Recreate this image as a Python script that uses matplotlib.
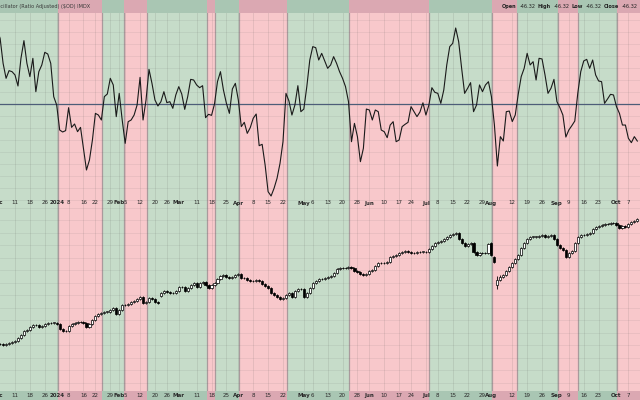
import numpy as np
import pandas as pd
import matplotlib
matplotlib.use("Agg")
import matplotlib.pyplot as plt
from matplotlib.patches import Rectangle

# ---------------- data ----------------
holidays = ['2023-12-25', '2024-01-01', '2024-01-15', '2024-02-19', '2024-03-29',
            '2024-05-27', '2024-06-19', '2024-07-04', '2024-09-02']
dates = pd.bdate_range('2023-12-01', '2024-10-10')
dates = dates[~dates.isin(pd.to_datetime(holidays))]

osc = [92.5, 82.1, 50.8, 32.1, 41.7, 40.4, 36.3, 22.5, 57.1, 79.2,
       50.8, 34.2, 57.1, 15.4, 40.4, 48.8, 64.6, 62.5, 50.8, 9.2,
       -1.3, -32.5, -35.0, -33.3, -4.6, -29.2, -25.0, -34.6, -29.2, -55.4,
       -82.5, -70.0, -45.0, -11.7, -13.8, -20.0, 9.2, 12.5, 32.1, 23.8,
       -15.8, 13.3, -20.0, -49.2, -22.1, -20.0, -13.8, -1.3, 33.3, -20.0,
       5.0, 43.3, 25.8, 5.0, -2.5, 2.9, 15.4, 1.7, 2.9, -5.4,
       11.3, 21.7, 12.5, -6.7, 9.2, 30.8, 30.0, 23.8, 20.4, 22.9,
       -17.1, -12.9, -14.2, 0.0, 28.0, 40.4, 17.5, 0.8, -11.7, 18.8,
       25.8, 5.0, -28.3, -22.9, -36.7, -29.6, -17.9, -12.5, -52.1, -50.4,
       -76.3, -109.6, -115.0, -105.4, -92.9, -74.2, -47.1, 13.3, 3.8, -13.8,
       -1.3, 22.9, -9.6, -6.3, 21.7, 55.0, 71.7, 70.4, 55.0, 63.3,
       53.8, 44.6, 48.8, 59.2, 50.8, 40.4, 32.1, 21.7, 2.9, -47.1,
       -24.2, -40.8, -72.1, -55.4, -6.3, -7.5, -20.0, -7.5, -9.6, -32.5,
       -34.6, -42.1, -26.3, -22.1, -47.1, -45.0, -28.3, -25.4, -22.9, -3.3,
       -9.6, -15.8, -10.0, 1.5, -13.8, -1.3, 20.4, 14.6, 13.3, 0.8,
       17.5, 48.8, 71.7, 75.8, 95.0, 77.9, 44.6, 13.3, 19.6, 26.7,
       -9.6, -1.3, 23.8, 15.4, 23.8, 27.9, 9.2, -26.0, -77.5, -40.8,
       -46.3, -9.6, -8.8, -22.0, -13.8, 12.1, 34.2, 44.6, 63.3, 48.8,
       52.9, 30.0, 57.1, 56.3, 36.3, 13.3, 19.6, 30.8, 2.9, -4.6,
       -13.8, -41.3, -32.5, -27.1, -21.3, 13.3, 40.4, 53.8, 55.8, 44.6,
       55.0, 36.3, 28.8, 27.9, 0.8, 6.3, 12.1, 11.3, -3.3, -11.7,
       -26.3, -26.3, -42.9, -48.3, -40.8, -46.32]

opens = [4555, 4560, 4560, 4550, 4560, 4567, 4580, 4593, 4617, 4650,
         4690, 4700, 4727, 4747, 4750, 4727, 4740, 4757, 4767, 4773,
         4773, 4760, 4707, 4687, 4687, 4740, 4760, 4773, 4777, 4780,
         4767, 4733, 4760, 4800, 4840, 4860, 4867, 4883, 4883, 4900,
         4917, 4857, 4900, 4947, 4950, 4957, 4980, 4993, 5013, 5033,
         4967, 4983, 5017, 5007, 4983, 5040, 5073, 5090, 5083, 5073,
         5067, 5093, 5127, 5133, 5093, 5117, 5150, 5167, 5127, 5167,
         5178, 5155, 5125, 5150, 5167, 5207, 5240, 5250, 5233, 5217,
         5233, 5253, 5260, 5217, 5220, 5200, 5190, 5193, 5200, 5190,
         5160, 5140, 5117, 5073, 5050, 5033, 5007, 5017, 5050, 5067,
         5033, 5093, 5107, 5107, 5033, 5067, 5117, 5167, 5193, 5207,
         5213, 5220, 5227, 5240, 5273, 5307, 5317, 5317, 5317, 5333,
         5317, 5293, 5283, 5260, 5247, 5260, 5287, 5300, 5340, 5367,
         5367, 5373, 5380, 5427, 5440, 5450, 5467, 5483, 5493, 5480,
         5467, 5473, 5480, 5483, 5483, 5477, 5507, 5540, 5567, 5577,
         5587, 5607, 5633, 5647, 5660, 5667, 5607, 5573, 5540, 5560,
         5567, 5483, 5450, 5467, 5467, 5467, 5575, 5430, 5150, 5200,
         5227, 5250, 5293, 5333, 5367, 5407, 5450, 5517, 5567, 5610,
         5633, 5633, 5633, 5640, 5647, 5633, 5640, 5650, 5607, 5550,
         5517, 5500, 5433, 5473, 5493, 5573, 5627, 5650, 5650, 5657,
         5667, 5707, 5727, 5740, 5747, 5757, 5760, 5767, 5773, 5750,
         5717, 5740, 5733, 5760, 5783, 5793]

highs = [4570, 4570, 4570, 4570, 4577, 4590, 4603, 4627, 4660, 4700,
         4710, 4737, 4757, 4760, 4760, 4750, 4767, 4777, 4783, 4783,
         4783, 4770, 4717, 4697, 4750, 4770, 4783, 4787, 4790, 4790,
         4777, 4770, 4810, 4850, 4870, 4877, 4893, 4893, 4910, 4927,
         4927, 4910, 4957, 4960, 4967, 4990, 5003, 5023, 5043, 5043,
         4993, 5027, 5027, 5017, 4993, 5083, 5100, 5100, 5093, 5083,
         5103, 5137, 5143, 5143, 5127, 5160, 5177, 5177, 5177, 5188,
         5188, 5165, 5160, 5177, 5217, 5250, 5260, 5260, 5243, 5243,
         5263, 5270, 5270, 5230, 5230, 5210, 5203, 5210, 5210, 5200,
         5170, 5150, 5127, 5083, 5060, 5043, 5027, 5060, 5077, 5077,
         5103, 5117, 5117, 5117, 5077, 5127, 5177, 5203, 5217, 5223,
         5230, 5237, 5250, 5283, 5317, 5327, 5327, 5327, 5343, 5343,
         5327, 5303, 5293, 5270, 5270, 5297, 5310, 5350, 5377, 5377,
         5383, 5390, 5437, 5450, 5460, 5477, 5493, 5503, 5503, 5490,
         5483, 5490, 5493, 5493, 5493, 5517, 5550, 5577, 5587, 5597,
         5617, 5643, 5657, 5670, 5677, 5677, 5617, 5583, 5570, 5577,
         5577, 5493, 5477, 5477, 5477, 5570, 5585, 5440, 5240, 5250,
         5260, 5303, 5343, 5377, 5417, 5460, 5527, 5577, 5620, 5643,
         5643, 5643, 5650, 5657, 5657, 5650, 5660, 5660, 5617, 5560,
         5527, 5510, 5483, 5503, 5583, 5637, 5660, 5660, 5667, 5677,
         5717, 5737, 5750, 5757, 5767, 5770, 5777, 5783, 5783, 5760,
         5750, 5750, 5770, 5793, 5803, 5817]

lows = [4545, 4550, 4540, 4540, 4550, 4557, 4570, 4583, 4607, 4640,
        4680, 4690, 4717, 4737, 4717, 4717, 4730, 4747, 4757, 4763,
        4750, 4697, 4677, 4677, 4677, 4730, 4750, 4763, 4767, 4757,
        4723, 4723, 4750, 4790, 4830, 4850, 4857, 4873, 4873, 4890,
        4847, 4847, 4890, 4937, 4940, 4947, 4970, 4983, 5003, 4957,
        4957, 4973, 4997, 4973, 4957, 5030, 5063, 5073, 5063, 5057,
        5057, 5083, 5117, 5083, 5083, 5107, 5140, 5117, 5117, 5157,
        5145, 5115, 5115, 5140, 5157, 5197, 5230, 5223, 5207, 5207,
        5223, 5243, 5207, 5207, 5190, 5180, 5180, 5183, 5180, 5150,
        5130, 5107, 5063, 5040, 5023, 4997, 4997, 5007, 5040, 5023,
        5023, 5083, 5097, 5023, 5023, 5057, 5107, 5157, 5183, 5197,
        5203, 5210, 5217, 5230, 5263, 5297, 5307, 5307, 5307, 5307,
        5283, 5273, 5250, 5237, 5237, 5250, 5277, 5290, 5330, 5357,
        5357, 5363, 5370, 5417, 5430, 5440, 5457, 5473, 5470, 5457,
        5457, 5463, 5470, 5473, 5467, 5467, 5497, 5530, 5557, 5567,
        5577, 5597, 5623, 5637, 5650, 5597, 5563, 5530, 5530, 5550,
        5473, 5440, 5440, 5457, 5457, 5457, 5440, 5370, 5110, 5190,
        5217, 5240, 5283, 5323, 5357, 5397, 5440, 5507, 5557, 5600,
        5623, 5623, 5623, 5630, 5623, 5623, 5630, 5597, 5540, 5507,
        5490, 5423, 5423, 5463, 5483, 5563, 5617, 5640, 5640, 5647,
        5657, 5697, 5717, 5730, 5737, 5747, 5750, 5757, 5740, 5707,
        5707, 5723, 5723, 5750, 5773, 5783]

closes = [4560, 4560, 4550, 4560, 4567, 4580, 4593, 4617, 4650, 4690,
          4700, 4727, 4747, 4750, 4727, 4740, 4757, 4767, 4773, 4773,
          4760, 4707, 4687, 4687, 4740, 4760, 4773, 4777, 4780, 4767,
          4733, 4760, 4800, 4840, 4860, 4867, 4883, 4883, 4900, 4917,
          4857, 4900, 4947, 4950, 4957, 4980, 4993, 5013, 5033, 4967,
          4983, 5017, 5007, 4983, 4967, 5073, 5090, 5083, 5073, 5067,
          5093, 5127, 5133, 5093, 5117, 5150, 5167, 5127, 5167, 5178,
          5155, 5125, 5150, 5167, 5207, 5240, 5250, 5233, 5217, 5233,
          5253, 5260, 5217, 5220, 5200, 5190, 5193, 5200, 5190, 5160,
          5140, 5117, 5073, 5050, 5033, 5007, 5017, 5050, 5067, 5033,
          5093, 5107, 5107, 5033, 5067, 5117, 5167, 5193, 5207, 5213,
          5220, 5227, 5240, 5273, 5307, 5317, 5317, 5317, 5333, 5317,
          5293, 5283, 5260, 5247, 5260, 5287, 5300, 5340, 5367, 5367,
          5373, 5380, 5427, 5440, 5450, 5467, 5483, 5493, 5480, 5467,
          5473, 5480, 5483, 5483, 5477, 5507, 5540, 5567, 5577, 5587,
          5607, 5633, 5647, 5660, 5667, 5607, 5573, 5540, 5560, 5567,
          5483, 5450, 5467, 5467, 5467, 5560, 5450, 5383, 5200, 5227,
          5250, 5293, 5333, 5367, 5407, 5450, 5517, 5567, 5610, 5633,
          5633, 5633, 5640, 5647, 5633, 5640, 5650, 5607, 5550, 5517,
          5500, 5433, 5473, 5493, 5573, 5627, 5650, 5650, 5657, 5667,
          5707, 5727, 5740, 5747, 5757, 5760, 5767, 5773, 5750, 5717,
          5740, 5733, 5760, 5783, 5793, 5807]

# regime bands (trading-day index boundaries) and whether each is bullish
band_edges = [-2, 20.34, 35.22, 42.44, 50.17, 70.33, 73.18, 81.34, 97.27,
              118.3, 145.2, 166.3, 174.5, 188.2, 195.2, 208.3, 218]
band_bull = [True, False, True, False, True, False, True, False, True,
             False, True, False, True, False, True, False]

tick_dates = ['2023-12-01', '2023-12-11', '2023-12-18', '2023-12-26', '2024-01-02',
              '2024-01-08', '2024-01-16', '2024-01-22', '2024-01-29', '2024-02-01',
              '2024-02-05', '2024-02-12', '2024-02-20', '2024-02-26', '2024-03-01',
              '2024-03-11', '2024-03-18', '2024-03-25', '2024-04-01', '2024-04-08',
              '2024-04-15', '2024-04-22', '2024-05-01', '2024-05-06', '2024-05-13',
              '2024-05-20', '2024-05-28', '2024-06-03', '2024-06-10', '2024-06-17',
              '2024-06-24', '2024-07-01', '2024-07-08', '2024-07-15', '2024-07-22',
              '2024-07-29', '2024-08-01', '2024-08-12', '2024-08-19', '2024-08-26',
              '2024-09-03', '2024-09-09', '2024-09-16', '2024-09-23', '2024-10-01',
              '2024-10-07']
tick_labels = ['Dec', '11', '18', '26', '2024', '8', '16', '22', '29', 'Feb',
               '5', '12', '20', '26', 'Mar', '11', '18', '25', 'Apr', '8',
               '15', '22', 'May', '6', '13', '20', '28', 'Jun', '10', '17',
               '24', 'Jul', '8', '15', '22', '29', 'Aug', '12', '19', '26',
               'Sep', '9', '16', '23', 'Oct', '7']

title_text = 'Oscillator (Ratio Adjusted) ($OD) IMDX'
ohlc_labels = ['Open', 'High', 'Low', 'Close']
last_value = '-46.32'

# ---------------- drawing ----------------
W, H = 640, 400
fig = plt.figure(figsize=(6.4, 4.0), dpi=100)
top_h = 206
ax1 = fig.add_axes([0, 1 - top_h / H, 1, top_h / H])
ax2 = fig.add_axes([0, 0, 1, (H - top_h) / H])

x = np.arange(len(dates))
xlim = (0.96, 215.9)
tick_idx = [dates.get_loc(pd.Timestamp(d)) for d in tick_dates]

GREEN = '#c6dcc9'
PINK = '#f8c8cb'
GREEN_D = '#a9c6b3'
PINK_D = '#dba8b2'
EDGE = '#a99a9c'
FS = 4.0
FS_HEAD = 3.6

for ax in (ax1, ax2):
    ax.set_xlim(*xlim)
    for k, bull in enumerate(band_bull):
        ax.axvspan(band_edges[k], band_edges[k + 1], color=GREEN if bull else PINK,
                   lw=0, zorder=0)
    for e in band_edges[1:-1]:
        ax.axvline(e, color=EDGE, lw=0.9, zorder=1)
    for t in tick_idx:
        ax.axvline(t, color=(0.35, 0.35, 0.35, 0.13), lw=0.7, zorder=1)
    for s in ax.spines.values():
        s.set_visible(False)
    ax.set_xticks([])
    ax.set_yticks([])

# upper panel
ax1.set_ylim(-127.5, 130)
for yv in np.arange(-120, 130, 15):
    ax1.axhline(yv, color=(0.35, 0.35, 0.35, 0.10), lw=0.6, zorder=1)
ax1.axhline(0, color='#4d5d78', lw=0.9, zorder=2)
ax1.plot(x, osc, color='#1a1a1a', lw=0.8, zorder=3)
# darker title strip
for k, bull in enumerate(band_bull):
    ax1.axvspan(band_edges[k], band_edges[k + 1], ymin=(top_h - 13) / top_h, ymax=1,
                color=GREEN_D if bull else PINK_D, lw=0, zorder=4)
ax1.text(-6 / W, 1 - 6.5 / top_h, title_text, transform=ax1.transAxes,
         fontsize=FS_HEAD, color='#3a3a3a', va='center', ha='left', zorder=5)

renderer = fig.canvas.get_renderer()
parts = []
for lab in ohlc_labels:
    parts.append((lab, True))
    parts.append((last_value, False))
items = []
for txt, bold in parts:
    tt = ax1.text(0, 1 - 6.5 / top_h, txt, transform=ax1.transAxes,
                  fontsize=FS_HEAD, fontweight='bold' if bold else 'normal',
                  color='#222222', va='center', ha='left', zorder=5)
    items.append((tt, tt.get_window_extent(renderer=renderer).width, bold))
gap = 2.5
total = sum(w for _, w, _ in items) + gap * (len(items) - 1)
xpos = 638 - total
for tt, w, bold in items:
    tt.set_x(xpos / W)
    xpos += w + gap

def date_labels(ax, yfrac):
    for t, lab in zip(tick_idx, tick_labels):
        bold = not lab.isdigit() or lab == '2024'
        ax.text(t, yfrac, lab, transform=ax.get_xaxis_transform(), fontsize=FS,
                fontweight='bold' if bold else 'normal', color='#2a2a2a',
                ha='center', va='center', zorder=6)

date_labels(ax1, (top_h - 203) / top_h)

# lower panel
ax2.set_ylim(4000, 5940)
for yv in np.arange(4050, 5940, 125):
    ax2.axhline(yv, color=(0.35, 0.35, 0.35, 0.10), lw=0.6, zorder=1)
bh = H - top_h
for k, bull in enumerate(band_bull):
    ax2.axvspan(band_edges[k], band_edges[k + 1], ymin=0, ymax=9 / bh,
                color=GREEN_D if bull else PINK_D, lw=0, zorder=4)
date_labels(ax2, 4.8 / bh)

bw = 0.72
for i in range(len(dates)):
    o, h, l, c = opens[i], highs[i], lows[i], closes[i]
    ax2.vlines(x[i], l, h, color='black', lw=0.6, zorder=3)
    lo = min(o, c)
    ht = max(abs(c - o), 3)
    ax2.add_patch(Rectangle((x[i] - bw / 2, lo), bw, ht,
                            facecolor='white' if c >= o else 'black',
                            edgecolor='black', lw=0.5, zorder=4))

fig.savefig('out.png', dpi=100)
